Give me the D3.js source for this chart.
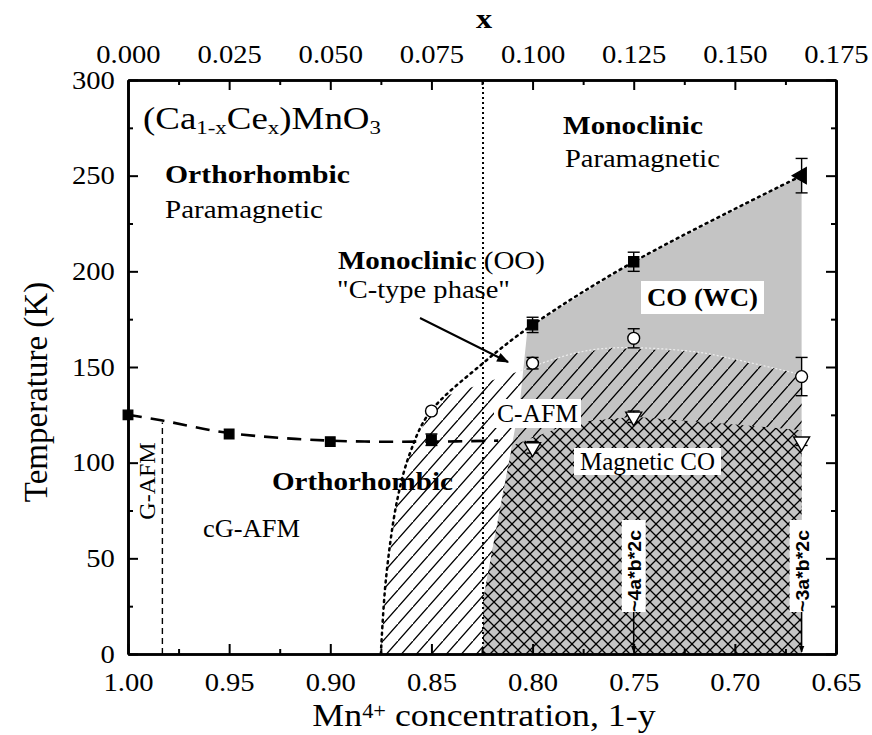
<!DOCTYPE html>
<html lang="en">
<head>
<meta charset="utf-8">
<title>(Ca1-xCex)MnO3 phase diagram</title>
<script src="https://cdn.jsdelivr.net/npm/d3@7/dist/d3.min.js"></script>
<style>
  body { margin: 0; background: #fff; }
  svg text { font-family: "Liberation Serif", "Times New Roman", serif; fill: #000; }
</style>
</head>
<body>
<div id="chart"></div>
<script>
// tick labels
var bottomTicks = [1.00, 0.95, 0.90, 0.85, 0.80, 0.75, 0.70, 0.65];
var bottomMinor = [0.975, 0.925, 0.875, 0.825, 0.775, 0.725, 0.675];
var topTicks = [0, 0.025, 0.05, 0.075, 0.1, 0.125, 0.15, 0.175];
var topMinor = [0.0125, 0.0375, 0.0625, 0.0875, 0.1125, 0.1375, 0.1625];
var yTicks = [0, 50, 100, 150, 200, 250, 300];
var yMinor = [25, 75, 125, 175, 225, 275];

// measured points [1-y, T, error]
var neelSquares = [[1.00, 125, 0], [0.95, 115, 0], [0.90, 111, 0], [0.85, 112, 3]];
var coSquares = [[0.80, 172, 4], [0.75, 205, 5]];
var coTriangle = [[0.667, 250, 9]];
var ooCircles = [[0.85, 127, 0], [0.80, 152, 3], [0.75, 165, 5], [0.667, 145, 10]];
var magTriangles = [[0.80, 108, 3], [0.75, 124, 3], [0.667, 111, 2]];

// phase boundaries [1-y, T]
var neelLine = [[1.00, 125], [0.983, 122], [0.95, 115.5], [0.90, 111.5], [0.85, 111], [0.817, 111.5]];
var monoBoundary = [[0.875, 0], [0.8725, 39], [0.867, 80], [0.8606, 105], [0.851, 126], [0.8245, 152], [0.80, 172], [0.75, 205], [0.667, 250]];
var grayEdge = [[0.8245, 0], [0.8245, 28], [0.8196, 56], [0.8146, 84], [0.8062, 132], [0.8028, 167], [0.80, 172]];
var hatchTop = [[0.845, 134], [0.806, 148], [0.78, 157], [0.76, 160], [0.72, 158], [0.70, 154], [0.667, 146]];
var crossTop = [[0.81, 109], [0.78, 121], [0.75, 124], [0.70, 120], [0.667, 117]];
var gAfmEdge = [[0.983, 0], [0.983, 121]];
var monoLimit = 0.8245;
var rightLimit = 0.667;

var margin = {top: 80, right: 36, bottom: 81, left: 128};
var width = 872 - margin.left - margin.right,
    height = 735 - margin.top - margin.bottom;

var svg = d3.select("#chart").append("svg")
    .attr("width", 872)
    .attr("height", 735);
var g = svg.append("g")
    .attr("transform", "translate(" + margin.left + "," + margin.top + ")");

var x = d3.scaleLinear().domain([1.0, 0.65]).range([0, width]);
var xTop = d3.scaleLinear().domain([0, 0.175]).range([0, width]);
var y = d3.scaleLinear().domain([0, 300]).range([height, 0]);

// patterns
var defs = svg.append("defs");
var hatch = defs.append("pattern")
    .attr("id", "hatch")
    .attr("patternUnits", "userSpaceOnUse")
    .attr("width", 15).attr("height", 17);
hatch.append("path")
    .attr("d", "M0,17 L15,0 M-15,17 L0,0 M15,34 L30,0")
    .attr("stroke", "#000").attr("stroke-width", 1.3);

var cross = defs.append("pattern")
    .attr("id", "cross")
    .attr("patternUnits", "userSpaceOnUse")
    .attr("width", 12).attr("height", 12);
cross.append("rect").attr("width", 12).attr("height", 12).attr("fill", "#c4c4c4");
cross.append("path")
    .attr("d", "M0,12 L12,0 M0,0 L12,12 M-1,1 L1,-1 M11,13 L13,11")
    .attr("stroke", "#000").attr("stroke-width", 1.3);

var line = d3.line().x(function(d) { return x(d[0]); }).y(function(d) { return y(d[1]); });
var smooth = d3.line().x(function(d) { return x(d[0]); }).y(function(d) { return y(d[1]); })
    .curve(d3.curveCatmullRom);

// gray charge-ordered region
var grayPoly = grayEdge.concat(monoBoundary.filter(function(d) { return d[0] < 0.80; }))
    .concat([[rightLimit, 0]]);
g.append("path").attr("d", line(grayPoly) + "Z").attr("fill", "#c4c4c4");

// single hatch (C-AFM)
var hatchPoly = monoBoundary.filter(function(d) { return d[1] <= 126; })
    .concat(hatchTop).concat([[rightLimit, 0]]);
g.append("path").attr("d", line(hatchPoly) + "Z").attr("fill", "url(#hatch)");

// cross hatch (magnetic CO)
var crossPoly = grayEdge.filter(function(d) { return d[1] < 100; })
    .concat(crossTop).concat([[rightLimit, 0]]);
g.append("path").attr("d", line(crossPoly) + "Z").attr("fill", "url(#cross)");

// light line on top of hatched gray
g.append("path").attr("d", smooth(hatchTop.slice(1)))
    .attr("fill", "none").attr("stroke", "#eee").attr("stroke-width", 1.2)
    .attr("stroke-dasharray", "2,2");

// boundaries
g.append("line")
    .attr("x1", x(monoLimit)).attr("x2", x(monoLimit))
    .attr("y1", y(0)).attr("y2", y(300))
    .attr("stroke", "#000").attr("stroke-width", 2).attr("stroke-dasharray", "2,3");
g.append("path").attr("d", smooth(monoBoundary))
    .attr("fill", "none").attr("stroke", "#000").attr("stroke-width", 2.5)
    .attr("stroke-dasharray", "2,4.5").attr("stroke-linecap", "round");
g.append("path").attr("d", smooth(neelLine))
    .attr("fill", "none").attr("stroke", "#000").attr("stroke-width", 2.6)
    .attr("stroke-dasharray", "14,9");
g.append("path").attr("d", line(gAfmEdge))
    .attr("fill", "none").attr("stroke", "#000").attr("stroke-width", 1.4)
    .attr("stroke-dasharray", "6,4");

// labels, stretched sideways to the widths seen in the figure
var L = function(v) { return v - margin.left; }, T = function(v) { return v - margin.top; };
function label(px, py, parts, size, w, box) {
    var t = g.append("text")
        .attr("transform", "translate(" + L(px) + "," + T(py) + ")")
        .style("font-size", size + "px");
    parts.forEach(function(p) {
        t.append("tspan")
            .style("font-weight", p.b ? "bold" : "normal")
            .attr("baseline-shift", p.sub ? "-30%" : null)
            .style("font-size", p.sub ? (size * 0.62) + "px" : null)
            .text(p.t);
    });
    var bb = t.node().getBBox();
    var sx = w / bb.width;
    t.attr("transform", "translate(" + L(px) + "," + T(py) + ") scale(" + sx + ",1)");
    if (box) {
        g.insert("rect", function() { return t.node(); })
            .attr("x", L(px) + bb.x * sx - box[0]).attr("y", T(py) + bb.y - box[1])
            .attr("width", bb.width * sx + 2 * box[0]).attr("height", bb.height + 2 * box[1])
            .attr("fill", "#fff");
    }
    return t;
}

label(143, 129, [{t: "(Ca"}, {t: "1-x", sub: true}, {t: "Ce"}, {t: "x", sub: true}, {t: ")MnO"}, {t: "3", sub: true}], 31, 238);
label(165, 183, [{t: "Orthorhombic", b: true}], 26, 185);
label(165, 218, [{t: "Paramagnetic"}], 26, 158);
label(563, 134, [{t: "Monoclinic", b: true}], 26, 140);
label(565, 167, [{t: "Paramagnetic"}], 26, 155);
label(338, 269, [{t: "Monoclinic", b: true}, {t: " (OO)"}], 26, 207);
label(337, 298, [{t: "\"C-type phase\""}], 26, 173);
label(647, 306, [{t: "CO (WC)", b: true}], 26, 111, [6, 2]);
label(497, 422, [{t: "C-AFM"}], 25, 81, [3, 1]);
label(580, 470, [{t: "Magnetic CO"}], 25, 135, [6, 0]);
label(272, 490, [{t: "Orthorhombic", b: true}], 26, 181);
label(203, 537, [{t: "cG-AFM"}], 25, 97);

// rotated labels
g.append("text")
    .attr("transform", "translate(" + L(155) + "," + T(481) + ") rotate(-90)")
    .attr("text-anchor", "middle")
    .style("font-size", "24px")
    .text("G-AFM");

defs.append("marker")
    .attr("id", "arrow").attr("viewBox", "0 0 10 10")
    .attr("refX", 9).attr("refY", 5)
    .attr("markerWidth", 7).attr("markerHeight", 7)
    .attr("markerUnits", "userSpaceOnUse")
    .attr("orient", "auto")
    .append("path").attr("d", "M0,1 L10,5 L0,9 Z").attr("fill", "#000");
defs.append("marker")
    .attr("id", "arrowBig").attr("viewBox", "0 0 10 10")
    .attr("refX", 9).attr("refY", 5)
    .attr("markerWidth", 14).attr("markerHeight", 12)
    .attr("markerUnits", "userSpaceOnUse")
    .attr("orient", "auto")
    .append("path").attr("d", "M0,1 L10,5 L0,9 Z").attr("fill", "#000");

function cellLabel(conc, txt) {
    var cx = x(conc);
    var t = g.append("text")
        .attr("transform", "translate(" + (cx + 7) + "," + T(571) + ") rotate(-90)")
        .attr("text-anchor", "middle")
        .style("font-family", "'Liberation Sans', Arial, sans-serif")
        .style("font-weight", "bold")
        .style("font-size", "18px")
        .attr("textLength", 82).attr("lengthAdjust", "spacingAndGlyphs")
        .text(txt);
    g.insert("rect", function() { return t.node(); })
        .attr("x", cx - 12).attr("y", T(520))
        .attr("width", 24).attr("height", 92)
        .attr("fill", "#fff");
    g.append("line")
        .attr("x1", cx).attr("x2", cx)
        .attr("y1", T(612)).attr("y2", y(0) - 2)
        .attr("stroke", "#000").attr("stroke-width", 1.5)
        .attr("marker-end", "url(#arrow)");
}
cellLabel(0.75, "~4a*b*2c");
cellLabel(rightLimit, "~3a*b*2c");

// arrow to the "C-type phase"
g.append("line")
    .attr("x1", L(420)).attr("y1", T(318))
    .attr("x2", L(508)).attr("y2", T(362))
    .attr("stroke", "#000").attr("stroke-width", 2)
    .attr("marker-end", "url(#arrowBig)");

// error bars
function errorBars(data) {
    var eb = g.append("g").attr("stroke", "#000").attr("stroke-width", 1.4);
    data.filter(function(d) { return d[2] > 0; }).forEach(function(d) {
        var cx = x(d[0]), lo = y(d[1] - d[2]), hi = y(d[1] + d[2]);
        eb.append("line").attr("x1", cx).attr("x2", cx).attr("y1", lo).attr("y2", hi);
        eb.append("line").attr("x1", cx - 6).attr("x2", cx + 6).attr("y1", lo).attr("y2", lo);
        eb.append("line").attr("x1", cx - 6).attr("x2", cx + 6).attr("y1", hi).attr("y2", hi);
    });
}
[neelSquares, coSquares, coTriangle, ooCircles, magTriangles].forEach(errorBars);

function marks(data, type, size, fill, rot) {
    g.selectAll(null)
        .data(data)
        .enter()
        .append("path")
        .attr("d", d3.symbol().type(type).size(size))
        .attr("transform", function(d) {
            return "translate(" + x(d[0]) + "," + y(d[1]) + ") rotate(" + (rot || 0) + ")";
        })
        .attr("fill", fill)
        .attr("stroke", "#000")
        .attr("stroke-width", 1.4);
}
marks(neelSquares, d3.symbolSquare, 90, "#000");
marks(coSquares, d3.symbolSquare, 100, "#000");
marks(coTriangle, d3.symbolTriangle, 110, "#000", -90);
marks(ooCircles, d3.symbolCircle, 110, "#fff");
marks(magTriangles, d3.symbolTriangle, 110, "#fff", 180);

// axes
function styleAxis(sel) {
    sel.select(".domain").attr("stroke-width", 2.6);
    sel.selectAll(".tick line").attr("stroke-width", 2);
    sel.selectAll("text")
        .attr("transform", "scale(1.1,1)")
        .style("font-family", "'Liberation Serif', 'Times New Roman', serif")
        .style("font-size", "26px");
}
function axisPair(axisFn, scale, major, minor, fmt, pad, shift) {
    g.append("g").attr("transform", shift)
        .call(axisFn(scale).tickValues(minor).tickSize(-5).tickSizeOuter(0).tickFormat(""))
        .call(styleAxis);
    g.append("g").attr("transform", shift)
        .call(axisFn(scale).tickValues(major).tickSize(-10).tickSizeOuter(0).tickPadding(pad)
            .tickFormat(fmt ? d3.format(fmt) : ""))
        .call(styleAxis);
}
axisPair(d3.axisBottom, x, bottomTicks, bottomMinor, ".2f", 19, "translate(0," + height + ")");
axisPair(d3.axisTop, xTop, topTicks, topMinor, ".3f", 17, null);
axisPair(d3.axisLeft, y, yTicks, yMinor, "d", 12, null);
axisPair(d3.axisRight, y, yTicks, yMinor, null, 0, "translate(" + width + ",0)");

// axis titles
g.append("text")
    .attr("transform", "translate(" + L(47) + "," + T(392) + ") rotate(-90)")
    .attr("text-anchor", "middle")
    .style("font-size", "33px")
    .text("Temperature (K)");

var xt = g.append("text")
    .attr("transform", "translate(" + L(484) + "," + T(726) + ") scale(1.12,1)")
    .attr("text-anchor", "middle")
    .style("font-size", "32px");
xt.append("tspan").text("Mn");
xt.append("tspan").attr("baseline-shift", "40%").style("font-size", "20px").text("4+");
xt.append("tspan").text(" concentration, 1-y");

g.append("text")
    .attr("transform", "translate(" + L(484) + "," + T(28) + ") scale(1.15,1)")
    .attr("text-anchor", "middle")
    .style("font-size", "28px")
    .style("font-weight", "bold")
    .text("x");
</script>
</body>
</html>
